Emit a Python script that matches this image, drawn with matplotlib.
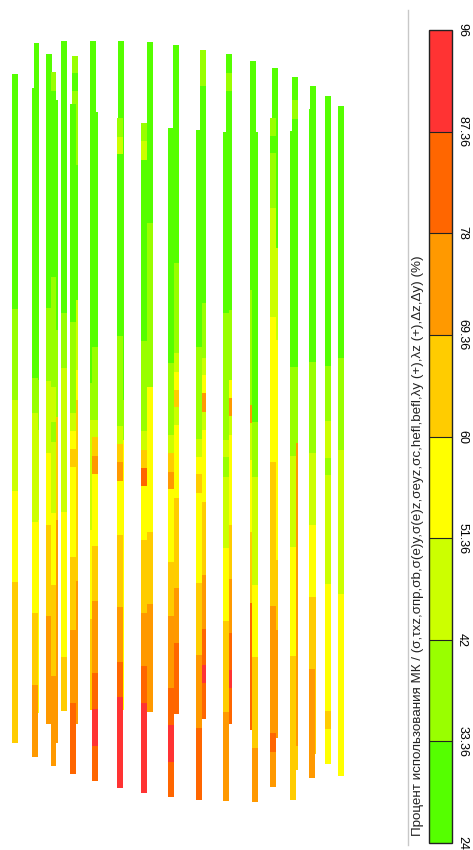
import matplotlib
matplotlib.use("Agg")
import matplotlib.pyplot as plt
from matplotlib.colors import ListedColormap, BoundaryNorm
from matplotlib.colorbar import ColorbarBase
from matplotlib.lines import Line2D

# ---------------- data ----------------
bounds = [24, 33.36, 42, 51.36, 60, 69.36, 78, 87.36, 96]
tick_labels = ["24", "33.36", "42", "51.36", "60", "69.36", "78", "87.36", "96"]
bin_colors = ["#55ff00", "#99ff00", "#ccff00", "#ffff00",
              "#ffcc00", "#ff9900", "#ff6600", "#ff3333"]
title = ("Процент использования МК / (σ,τxz,σпр,σb,σ(e)y,σ(e)z,σeyz,σc,"
         "hefl,befl,λy (+),λz (+),Δz,Δy) (%)")

# segment boundaries along each member (screen height units) and utilisation (%)
# back row members
b02_edges = [43, 380, 430, 520, 713]
b02_vals = [29, 38, 47, 56]
b03_edges = [54, 308, 381, 453, 525, 616, 724]
b03_vals = [29, 38, 47, 56, 65, 74]
c03_edges = [100, 330, 417, 520, 743]
c03_vals = [29, 38, 65, 74]
b04_edges = [41, 313, 368, 512, 657, 711]
b04_vals = [29, 38, 47, 56, 65]
b05_edges = [56, 73, 91, 165, 300, 370, 400, 581, 724]
b05_vals = [38, 29, 38, 29, 47, 56, 65, 74]
b06_edges = [41, 383, 420, 530, 619, 710]
b06_vals = [29, 38, 47, 56, 65]
b07_edges = [41, 400, 440, 710]
b07_vals = [29, 38, 56]
b08_edges = [42, 223, 387, 532, 604, 712]
b08_vals = [29, 38, 56, 65, 74]
b09_edges = [45, 263, 353, 372, 390, 407, 425, 498, 588, 643, 714]
b09_vals = [29, 38, 47, 56, 65, 47, 56, 65, 74, 83]
b10_edges = [50, 86, 303, 358, 375, 393, 412, 430, 502, 575, 629, 665, 683, 719]
b10_vals = [38, 29, 38, 47, 56, 74, 47, 56, 65, 74, 83, 92, 83]
b11_edges = [54, 73, 91, 310, 380, 398, 416, 435, 525, 579, 633, 670, 688, 724]
b11_vals = [29, 38, 29, 38, 56, 74, 47, 56, 65, 74, 83, 92, 83]
b12_edges = [61, 290, 405, 423, 460, 532, 603, 730]
b12_vals = [29, 38, 74, 47, 56, 65, 83]
b13_edges = [68, 248, 340, 560, 630, 738]
b13_vals = [29, 47, 56, 65, 74]
b14_edges = [77, 100, 119, 367, 443, 746, 770]
b14_vals = [29, 38, 29, 38, 74, 65]
b15_edges = [86, 362, 453, 525, 597, 754]
b15_vals = [29, 38, 47, 56, 65]

# front row members
f01_edges = [74, 309, 400, 491, 582, 743]
f01_vals = [29, 38, 47, 56, 65]
f02_edges = [88, 378, 413, 522, 613, 685, 757]
f02_vals = [29, 38, 47, 56, 65, 74]
f03_edges = [72, 91, 277, 387, 422, 442, 513, 585, 676, 766]
f03_vals = [38, 29, 38, 47, 38, 47, 56, 65, 74]
f05_edges = [104, 322, 413, 431, 449, 467, 557, 630, 703, 774]
f05_vals = [29, 38, 47, 56, 65, 56, 65, 74, 83]
f06_edges = [112, 347, 420, 437, 456, 474, 546, 601, 673, 709, 746, 781]
f06_vals = [29, 38, 47, 65, 74, 56, 65, 74, 83, 92, 83]
f07_edges = [118, 137, 154, 336, 426, 444, 462, 481, 535, 607, 662, 697, 788]
f07_vals = [38, 47, 29, 38, 47, 65, 74, 56, 65, 74, 83, 92]
f08_edges = [123, 141, 160, 341, 431, 450, 468, 486, 540, 613, 666, 703, 793]
f08_vals = [38, 47, 29, 38, 47, 65, 83, 56, 65, 74, 83, 92]
f09_edges = [128, 363, 435, 453, 472, 489, 562, 616, 688, 725, 762, 797]
f09_vals = [29, 38, 47, 65, 74, 56, 65, 74, 83, 92, 83]
f10_edges = [130, 347, 439, 457, 474, 493, 583, 655, 728, 800]
f10_vals = [29, 38, 47, 56, 65, 56, 65, 74, 83]
f11_edges = [132, 313, 440, 457, 477, 548, 621, 712, 801]
f11_vals = [29, 38, 47, 38, 47, 56, 65, 74]
f12_edges = [132, 422, 477, 585, 657, 748, 802]
f12_vals = [29, 38, 47, 56, 65, 74]
f13_edges = [118, 136, 153, 208, 317, 462, 606, 733, 752, 787]
f13_vals = [38, 29, 38, 47, 56, 65, 74, 83, 74]
f14_edges = [131, 367, 456, 547, 656, 800]
f14_vals = [29, 38, 47, 56, 65]
f15_edges = [109, 362, 453, 525, 597, 669, 778]
f15_vals = [29, 38, 47, 56, 65, 74]
f16_edges = [96, 366, 421, 458, 475, 584, 711, 729, 764]
f16_vals = [29, 38, 47, 38, 47, 56, 65, 56]
f17_edges = [106, 358, 450, 594, 776]
f17_vals = [29, 38, 47, 56]

# member horizontal positions (left edge, screen units), drawn back to front
members = [
    (33.5, b02_edges, b02_vals), (52.0, c03_edges, c03_vals),
    (45.8, b03_edges, b03_vals), (61.0, b04_edges, b04_vals),
    (72.3, b05_edges, b05_vals), (90.0, b06_edges, b06_vals),
    (118.0, b07_edges, b07_vals), (147.0, b08_edges, b08_vals),
    (173.3, b09_edges, b09_vals), (200.0, b10_edges, b10_vals),
    (225.7, b11_edges, b11_vals), (250.0, b12_edges, b12_vals),
    (272.3, b13_edges, b13_vals), (292.3, b14_edges, b14_vals),
    (310.0, b15_edges, b15_vals),
    (12.0, f01_edges, f01_vals), (32.0, f02_edges, f02_vals),
    (50.5, f03_edges, f03_vals), (70.0, f05_edges, f05_vals),
    (92.3, f06_edges, f06_vals), (116.7, f07_edges, f07_vals),
    (141.3, f08_edges, f08_vals), (167.7, f09_edges, f09_vals),
    (196.0, f10_edges, f10_vals), (223.3, f11_edges, f11_vals),
    (252.3, f12_edges, f12_vals), (270.0, f13_edges, f13_vals),
    (290.0, f14_edges, f14_vals), (309.0, f15_edges, f15_vals),
    (324.7, f16_edges, f16_vals), (338.0, f17_edges, f17_vals),
]
member_width = 5.8

# ---------------- drawing ----------------
cmap = ListedColormap(bin_colors)
norm = BoundaryNorm(bounds, cmap.N)

fig = plt.figure(figsize=(4.73, 8.5), dpi=100)
fig.patch.set_facecolor("white")
ax = fig.add_axes([0, 0, 1, 1])
ax.set_xlim(0, 473)
ax.set_ylim(850, 0)
ax.axis("off")

for x0, edges, vals in members:
    starts = edges[:-1]
    lengths = [e1 - e0 for e0, e1 in zip(edges[:-1], edges[1:])]
    ax.bar([x0] * len(vals), lengths, width=member_width, bottom=starts,
           align="edge", color=[cmap(norm(v)) for v in vals],
           edgecolor="none", linewidth=0)

# separator line
fig.add_artist(Line2D([408 / 473, 408 / 473], [1 - 10 / 850, 1 - 845 / 850],
                      transform=fig.transFigure, color="#c8c8c8", lw=1))

# colorbar
cax = fig.add_axes([429 / 473, 1 - 843 / 850, 23 / 473, 813 / 850])
cb = ColorbarBase(cax, cmap=cmap, norm=norm, boundaries=bounds, ticks=bounds,
                  spacing="uniform", orientation="vertical", drawedges=True)
cb.outline.set_linewidth(1.0)
cb.outline.set_edgecolor("#222222")
cb.dividers.set_color("#222222")
cb.dividers.set_linewidth(0.8)
cb.set_ticklabels(tick_labels)
cax.tick_params(length=0, pad=3, labelsize=9)
for t in cax.get_yticklabels():
    t.set_rotation(-90)
    t.set_va("center")
    t.set_ha("left")
    t.set_family("Liberation Sans")

fig.text(418 / 473, 1 - 836 / 850, title, rotation=90, ha="center", va="bottom",
         fontsize=9.6, family="Liberation Sans", color="#222222")

fig.savefig("out.png", dpi=100, facecolor="white")
